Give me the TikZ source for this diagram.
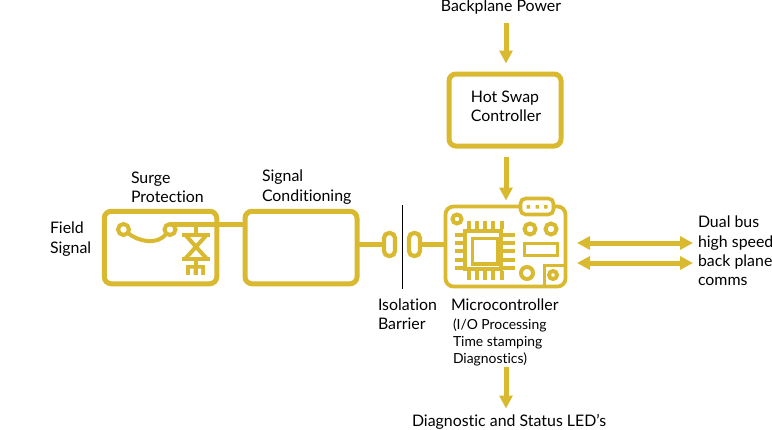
\documentclass[tikz,border=0pt]{standalone}
\usepackage{fontspec}
\setmainfont{Lato}[Ligatures=CommonOff]
\usetikzlibrary{arrows.meta,calc}
\definecolor{gold}{HTML}{D9B92F}
\tikzset{
  x=1pt,y=-1pt,
  txt/.style={text=black,inner sep=0pt,outer sep=0pt,align=left,font=\fontsize{15.9}{19.3}\selectfont},
  small/.style={txt,font=\fontsize{13.9}{17}\selectfont},
  bigbox/.style={draw=gold,line width=5pt,rounded corners=7pt,outer sep=0pt,inner sep=0pt},
  capsule/.style={draw=gold,line width=4.2pt,rounded corners=5pt,minimum width=11pt,minimum height=23pt,inner sep=0pt,outer sep=0pt},
  wire/.style={draw=gold,line width=5pt},
  arr/.style={draw=gold,line width=5pt,-{Triangle[length=13pt,width=13pt,fill=gold]}},
  darr/.style={draw=gold,line width=5pt,{Triangle[length=13pt,width=13pt,fill=gold]}-{Triangle[length=13pt,width=13pt,fill=gold]}},
  icon/.style={draw=gold,line width=3.6pt},
  pin/.style={draw=gold,line width=3.4pt},
  ring/.style={circle,draw=gold,line width=4pt,inner sep=0pt,outer sep=0pt},
}
\begin{document}
\begin{tikzpicture}
\useasboundingbox (0,0) rectangle (772,429);
% texts
\node[txt,anchor=base] (bp) at (501,11.5) {Backplane Power};
\node[txt,anchor=west] (field) at (50,239) {Field\\Signal};
\node[txt,anchor=west] (surge) at (131,187) {Surge\\Protection};
\node[txt,anchor=west] (cond) at (262,187) {Signal\\Conditioning};
\node[txt,anchor=west] (iso) at (378,314) {Isolation\\Barrier};
\node[txt,anchor=west] (mc) at (451,305) {Microcontroller};
\node[small,anchor=west] (io) at (453,342) {(I/O Processing\\Time stamping\\Diagnostics)};
\node[txt,anchor=base west] (led) at (412,426) {Diagnostic and Status LED's};
\node[txt,anchor=west] (dual) at (698,251) {Dual bus\\high speed\\back plane\\comms};
% boxes
\node[bigbox,minimum width=112pt,minimum height=72pt] (hot) at (505,110) {};
\node[txt,anchor=center,align=left] (hottxt) at (506,106) {Hot Swap\\Controller};
\node[bigbox,minimum width=112.5pt,minimum height=72.5pt] (prot) at (160.5,247.5) {};
\node[bigbox,minimum width=112pt,minimum height=72.5pt] (sig) at (301,247.5) {};
\node[capsule] (c1) at (389.5,244.5) {};
\node[capsule] (c2) at (414.5,244.5) {};
\node[draw=gold,line width=3.8pt,rounded corners=8pt,minimum width=120pt,minimum height=80pt,outer sep=0pt,inner sep=0pt] (mcu) at (505.5,246.5) {};
\node[inner sep=0pt,outer sep=0pt,anchor=north,minimum width=1pt,minimum height=1pt] (ledtop) at (506,408.5) {};
\node[inner sep=0pt,outer sep=0pt,minimum size=0pt] (iotail) at (506,367) {};
% connectors
\draw[arr] ([xshift=5pt,yshift=-8.5pt]bp.south) -- ([xshift=1pt,yshift=10.5pt]hot.north);
\draw[arr] ([xshift=1pt,yshift=-11pt]hot.south) -- ([xshift=.5pt,yshift=6pt]mcu.north);
\draw[arr] (iotail) -- (ledtop);
\draw[wire] (sig.west |- 0,224.5) -- (170,224.5);
\draw[wire] (sig.east |- c1.west) -- (c1.west);
\draw[wire] (c2.east) -- (mcu.west |- c2.east);
\draw[darr] ([xshift=11.5pt,yshift=3.5pt]mcu.east) -- ([xshift=-5pt,yshift=8pt]dual.west);
\draw[darr] ([xshift=11.5pt,yshift=-16.5pt]mcu.east) -- ([xshift=-5pt,yshift=-12pt]dual.west);
% barrier
\draw[black,line width=1pt] (402.5,205) -- (402.5,289);
% surge icon
\node[ring,minimum size=11pt,fill=white] (t1) at (123.5,229.5) {};
\node[ring,minimum size=11pt,fill=white] (t2) at (170,229.5) {};
\draw[icon,line width=4pt] (128,233) .. controls (137,241) and (157,246) .. (166,234);
\draw[icon,line width=4pt] (t2.north) .. controls (170,225) and (171,224.5) .. (174,224.5);
\draw[icon] (196,224.5) -- (196,234);
\draw[icon,line width=4pt] (182,234.5) -- (210,234.5);
\draw[icon,line width=4pt] (185,234.5) -- (207,259) (207,234.5) -- (185,259);
\draw[icon,line width=4pt] (182,259) -- (210,259);
\draw[icon] (196,259) -- (196,274);
\fill[gold] (186,265) rectangle (205,275);
\fill[white] (190,268.5) rectangle (193.5,275.5) (198,268.5) rectangle (201,275.5);
% MCU icon
\node[draw=gold,fill=white,line width=3.6pt,rounded corners=5pt,minimum width=33pt,minimum height=16pt,inner sep=0pt,outer sep=0pt] (tab) at (537,206.5) {};
\fill[gold] (526.5,205) rectangle +(3.5,3.5) (535.5,205) rectangle +(3.5,3.5) (544,205) rectangle +(3.5,3.5);
\node[ring,minimum size=9pt] at (457,219) {};
\draw[icon,line width=3.8pt] (465,231) rectangle (501,269);
\draw[icon,line width=3.8pt] (472.5,238.5) rectangle (497.5,264);
\foreach \x in {469,477,485,493,502}{\draw[pin] (\x,221) -- (\x,229) (\x,271) -- (\x,280);}
\foreach \y in {235,243,251,260,268}{\draw[pin] (455,\y) -- (463,\y) (503,\y) -- (515,\y);}
\node[ring,minimum size=11pt] at (530,229) {};
\node[ring,minimum size=11pt] at (551,229) {};
\draw[icon,line width=3.8pt] (524.5,243.5) rectangle (557.5,255.5);
\node[ring,minimum size=12pt] at (527,273) {};
\draw[icon] (567,265.5) -- (544.5,265.5) -- (544.5,288);
\node[ring,minimum size=8pt] at (553,275) {};
\end{tikzpicture}
\end{document}
